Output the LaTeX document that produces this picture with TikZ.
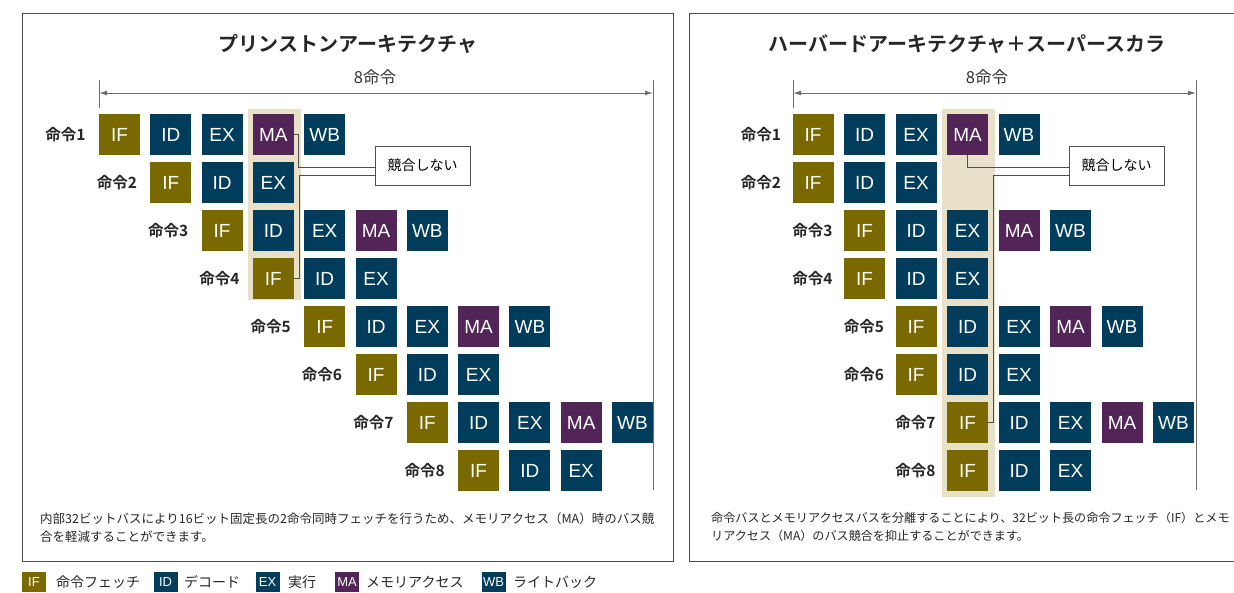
\documentclass[tikz,border=0pt]{standalone}
\usepackage{fontspec}
\setmainfont{Liberation Sans}
\newfontfamily\jp[BoldFont={Noto Sans CJK JP Bold}]{Noto Sans CJK JP}
\usetikzlibrary{calc,arrows.meta}
\definecolor{ifc}{RGB}{122,104,0}
\definecolor{idc}{RGB}{0,61,92}
\definecolor{mac}{RGB}{82,36,88}
\definecolor{bandc}{RGB}{232,224,200}
\definecolor{linec}{RGB}{80,80,80}
\definecolor{dimc}{RGB}{110,110,110}
\begin{document}
\begin{tikzpicture}[x=1pt,y=-1pt,
  stage/.style={minimum width=41pt, minimum height=41pt, inner sep=0pt, text=white, font=\fontsize{19}{19}\selectfont},
  ifbox/.style={stage, fill=ifc},
  idbox/.style={stage, fill=idc},
  mabox/.style={stage, fill=mac},
  rowlab/.style={anchor=east, font=\jp\bfseries\fontsize{15.5}{15.5}\selectfont, text=black!85, inner sep=0pt},
  titlestyle/.style={font=\jp\bfseries\fontsize{20}{20}\selectfont, inner sep=0pt, text=black!85},
  dimlab/.style={font=\jp\fontsize{16.5}{16.5}\selectfont, text=black!80, inner sep=0pt},
  dimline/.style={draw=dimc, line width=1pt},
  conn/.style={draw=linec, line width=1pt},
  callout/.style={draw=linec, line width=1pt, fill=white, minimum width=95pt, minimum height=39pt, inner sep=0pt, font=\jp\fontsize{14}{14}\selectfont},
  note/.style={anchor=north west, align=left, inner sep=0pt, text=black!85},
  panel/.style={draw=black!70, line width=1.2pt},
  legbox/.style={minimum width=24pt, minimum height=20pt, inner sep=0pt, text=white, font=\fontsize{13}{13}\selectfont},
  legtext/.style={anchor=west, inner sep=0pt, font=\jp\fontsize{14}{14}\selectfont, text=black!85}
]
\useasboundingbox (0,0) rectangle (1234,592);
% panels
\draw[panel] (22.5,13.5) rectangle (673.5,561.5);
\draw[panel] (1240,13.5) -- (689.5,13.5) -- (689.5,561.5) -- (1240,561.5);
% bands
\fill[bandc] (248,109) rectangle (301,300);
\fill[bandc] (942,109) rectangle (995,497);
% left stages
\foreach \i in {1,...,8}{
  \pgfmathtruncatemacro{\s}{\i-1}
  \pgfmathtruncatemacro{\n}{isodd(\i)?5:3}
  \foreach \k/\lab/\sty in {0/IF/ifbox,1/ID/idbox,2/EX/idbox,3/MA/mabox,4/WB/idbox}{
    \ifnum\k<\n
      \node[\sty] (L\i-\lab) at ({119.5+51.3*(\s+\k)},{134.5+48*(\i-1)}) {\lab};
    \fi
  }
  \node[rowlab] (Llab\i) at ([xshift=-13pt]L\i-IF.west) {命令\i};
}
% right stages
\foreach \i in {1,...,8}{
  \pgfmathtruncatemacro{\s}{int((\i-1)/2)}
  \pgfmathtruncatemacro{\n}{isodd(\i)?5:3}
  \foreach \k/\lab/\sty in {0/IF/ifbox,1/ID/idbox,2/EX/idbox,3/MA/mabox,4/WB/idbox}{
    \ifnum\k<\n
      \node[\sty] (R\i-\lab) at ({813+51.5*(\s+\k)},{134.5+48*(\i-1)}) {\lab};
    \fi
  }
  \node[rowlab] (Rlab\i) at ([xshift=-11pt]R\i-IF.west) {命令\i};
}
% titles
\node[titlestyle] (LT) at (348,44) {プリンストンアーキテクチャ};
\node[titlestyle] (RT) at (967,44) {ハーバードアーキテクチャ＋スーパースカラ};
% dimension lines
\coordinate (LdL) at (99,93); \coordinate (LdR) at (653,93);
\coordinate (LtA) at (99,80); \coordinate (LtB) at (99,108);
\coordinate (LtC) at (653,80); \coordinate (LtD) at (653,490);
\draw[dimline] (LtA) -- (LtB);
\draw[dimline] (LtC) -- (LtD);
\draw[dimline, {Latex[length=8pt,width=5pt]}-{Latex[length=8pt,width=5pt]}] (LdL) -- (LdR);
\node[dimlab] (Ld) at (375,77) {8命令};
\coordinate (RdL) at (793,93); \coordinate (RdR) at (1196,93);
\coordinate (RtA) at (793,80); \coordinate (RtB) at (793,108);
\coordinate (RtC) at (1196,80); \coordinate (RtD) at (1196,490);
\draw[dimline] (RtA) -- (RtB);
\draw[dimline] (RtC) -- (RtD);
\draw[dimline, {Latex[length=8pt,width=5pt]}-{Latex[length=8pt,width=5pt]}] (RdL) -- (RdR);
\node[dimlab] (Rd) at (987,77) {8命令};
% callouts
\node[callout] (LC) at (422.5,165.5) {競合しない};
\node[callout] (RC) at (1116.5,165.5) {競合しない};
\draw[conn] (L1-MA.east) -- ++(4,0) |- ([yshift=-1.5pt]LC.west);
\draw[conn] (L4-IF.east) -- ++(5,0) |- ([yshift=-9.5pt]LC.west);
\draw[conn] (R1-MA.south) |- ([yshift=-1.5pt]RC.west);
\draw[conn] (R7-IF.east) -- ++(5,0) |- ([yshift=-9.5pt]RC.west);
% notes
\node[note, font=\jp\fontsize{12.5}{18}\selectfont] (LN) at (40,513) {内部32ビットバスにより16ビット固定長の2命令同時フェッチを行うため、メモリアクセス（MA）時のバス競\\合を軽減することができます。};
\node[note, font=\jp\fontsize{12.1}{18}\selectfont] (RN) at (711,512) {命令バスとメモリアクセスバスを分離することにより、32ビット長の命令フェッチ（IF）とメモ\\リアクセス（MA）のバス競合を抑止することができます。};
% legend
\node[legbox, fill=ifc] (G1) at (34,582) {IF};
\node[legtext] (G1t) at (56,582) {命令フェッチ};
\node[legbox, fill=idc] (G2) at (165.5,582) {ID};
\node[legtext] (G2t) at (184,582) {デコード};
\node[legbox, fill=idc] (G3) at (267.5,582) {EX};
\node[legtext] (G3t) at (288,582) {実行};
\node[legbox, fill=mac] (G4) at (347,582) {MA};
\node[legtext] (G4t) at (366,582) {メモリアクセス};
\node[legbox, fill=idc] (G5) at (493.5,582) {WB};
\node[legtext] (G5t) at (513,582) {ライトバック};
\end{tikzpicture}
\end{document}
